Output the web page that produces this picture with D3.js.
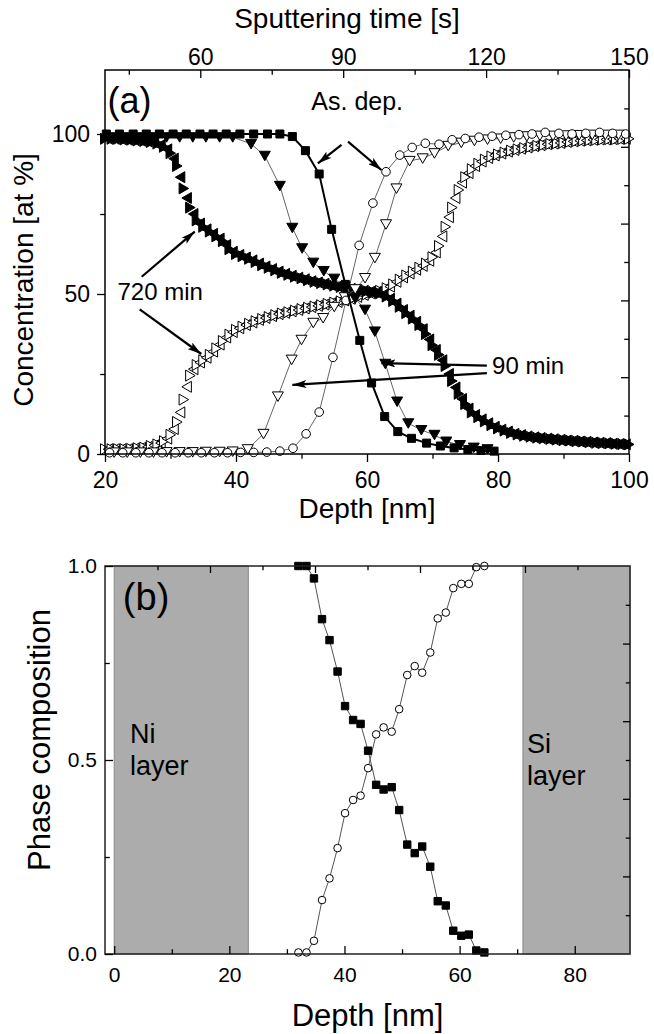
<!DOCTYPE html>
<html>
<head>
<meta charset="utf-8">
<script src="https://d3js.org/d3.v7.min.js"></script>
<style>
  body { margin: 0; background: #fff; }
</style>
</head>
<body>
<script>
// ---- panel (a): depth [nm] vs concentration [at %] ----
// as deposited: Ni (filled squares), Si (open circles)
var asDepNi = [[20.2,100],[22.2,100],[24.3,100],[26.3,100],[28.3,100],[30.4,100],[32.4,100],[34.5,100],[36.5,100],[38.5,100],[40.6,100],[42.7,100],[44.8,100],[46.7,100],[48.6,99.2],[50.6,94.8],[52.7,87.5],[54.6,70.2],[56.7,53],[58.9,35.5],[60.7,22.2],[62.7,11.7],[64.7,7],[66.8,4.9],[69.1,3.4],[71.2,2.5],[73.3,1.9],[75.4,1.4],[77.4,1.1],[79.4,0.9]];
var asDepSi = [[20.7,0.4],[22.7,0.4],[24.7,0.4],[26.7,0.4],[28.7,0.4],[30.7,0.4],[32.7,0.4],[34.7,0.4],[36.7,0.4],[38.7,0.4],[40.7,0.5],[42.7,0.5],[44.7,0.6],[46.7,0.9],[48.7,1.8],[50.7,6.3],[52.7,13.1],[54.8,30.2],[56.8,48],[58.8,65.2],[60.9,78.4],[62.9,88.2],[65,93.4],[66.9,95.8],[68.9,97.1],[71,96.8],[73,98.2],[75,98.6],[77.1,99],[79.1,99.3],[81.2,99.6],[83.2,99.8],[85.2,100],[87.2,100.5],[89.3,100.2],[91.3,100],[93.4,100.2],[95.5,100.5],[97.5,100.2],[99.5,100]];

// 90 min: Ni (filled down triangles), Si (open down triangles)
var ni90 = [[21.4,99],[23.4,99],[25.4,99],[27.4,99],[29.4,99],[31.4,99],[33.4,99],[35.4,99],[37.5,99],[39.5,99],[42.3,96.9],[44.4,93.2],[46.7,83.8],[48.6,70.7],[50.1,64.3],[51.8,59.8],[53.4,57.2],[55,54.8],[56.6,52.3],[58.2,48.6],[59.7,45.1],[61.2,38.3],[62.8,28.2],[64.6,16.4],[66.3,9.6],[68.3,7.5],[70.3,6],[72.1,3.9],[74.2,2.8],[76.3,2],[78.4,1.5]];
var si90 = [[21.4,0.5],[23.4,0.5],[25.4,0.5],[27.4,0.5],[29.4,0.6],[31.4,0.6],[33.4,0.6],[35.4,0.7],[37.5,0.7],[39.5,0.8],[41.8,1.5],[44.2,6.3],[46.4,18],[48.5,29.5],[50,35.7],[51.8,41],[53.3,42.5],[55,46],[56.6,49],[58.2,51.5],[59.7,55],[61.2,61.3],[62.9,71.8],[64.5,83],[66.5,91.6],[68.5,92.4],[70.3,94],[72.4,96.3],[74.4,97.3],[76.4,97.9],[78.4,98.3],[80.4,98.6],[82.4,99],[84.4,99.3],[86.4,99.5],[88.4,99.5],[90.4,99.6],[92.4,99.7],[94.4,99.8],[96.4,99.8],[98.4,99.8]];

// 720 min: dense profiles, right- and left-pointing triangles
var ni720R = [[20,98.5],[21,98.5],[22,98.5],[23,98.3],[24,98.2],[25,98],[26,97.8],[27,97.5],[28,97],[29,96],[30,94],[31,90],[32,83],[33,77],[34,73],[35,71],[36,69.5],[37,68],[38,66.5],[39,64],[40,62.5],[41,61.8],[42,61],[43,60],[44,59],[45,58.2],[46,57.4],[47,56.6],[48,56],[49,55.4],[50,54.9],[51,54.3],[52,53.8],[53,53.4],[54,53],[55,52.6],[56,52.2],[57,51.8],[58,51.5],[59,51.2],[60,50.9],[61,50.6],[62,50.2],[63,49.2],[64,47.8],[65,46],[66,44],[67,42.3],[68,40.3],[69,37.5],[70,34],[71,31],[72,27.5],[73,22.8],[74,18.8],[75,15.6],[76,13],[77,11.5],[78,10.2],[79,9],[80,8],[81,7.3],[82,6.6],[83,6.1],[84,5.7],[85,5.4],[86,5.1],[87,4.9],[88,4.7],[89,4.5],[90,4.3],[91,4.2],[92,4],[93,3.9],[94,3.7],[95,3.5],[96,3.4],[97,3.3],[98,3.2],[99,3.1],[100,3]];
var ni720L = [[20.5,98.5],[21.5,98.5],[22.5,98.4],[23.5,98.2],[24.5,98.1],[25.5,97.9],[26.5,97.7],[27.5,97.3],[28.5,96.6],[29.5,95.2],[30.5,92.3],[31.5,86.5],[32.5,80],[33.5,75],[34.5,72],[35.5,70.2],[36.5,68.8],[37.5,67.3],[38.5,65.3],[39.5,63.2],[40.5,62.2],[41.5,61.4],[42.5,60.5],[43.5,59.5],[44.5,58.6],[45.5,57.8],[46.5,57],[47.5,56.3],[48.5,55.7],[49.5,55.1],[50.5,54.6],[51.5,54],[52.5,53.6],[53.5,53.2],[54.5,52.8],[55.5,52.4],[56.5,52],[57.5,51.6],[58.5,51.3],[59.5,51],[60.5,50.7],[61.5,50.4],[62.5,49.8],[63.5,48.5],[64.5,47],[65.5,45],[66.5,43.2],[67.5,41.3],[68.5,39],[69.5,35.8],[70.5,32.5],[71.5,29.3],[72.5,25],[73.5,20.8],[74.5,17.2],[75.5,14.2],[76.5,12.2],[77.5,10.8],[78.5,9.6],[79.5,8.5],[80.5,7.6],[81.5,7],[82.5,6.3],[83.5,5.9],[84.5,5.5],[85.5,5.2],[86.5,5],[87.5,4.8],[88.5,4.6],[89.5,4.4],[90.5,4.2],[91.5,4.1],[92.5,3.9],[93.5,3.8],[94.5,3.6],[95.5,3.5],[96.5,3.4],[97.5,3.2],[98.5,3.1],[99.5,3]];
var si720R = [[20,1.5],[21,1.5],[22,1.5],[23,1.5],[24,1.6],[25,1.8],[26,2],[27,2.5],[28,3],[29,4],[30,6],[31,10],[32,17],[33,24.5],[34,27.8],[35,29.3],[36,31],[37,33],[38,35.3],[39,37.3],[40,38.8],[41,39.8],[42,40.7],[43,41.5],[44,42.2],[45,42.8],[46,43.4],[47,43.9],[48,44.3],[49,44.8],[50,45.3],[51,45.7],[52,46.1],[53,46.5],[54,46.9],[55,47.3],[56,47.7],[57,48.2],[58,48.8],[59,49.4],[60,49.9],[61,50.4],[62,51],[63,51.8],[64,53],[65,54.5],[66,55.8],[67,57],[68,58.2],[69,59.5],[70,61.5],[71,65],[72,71],[73,77],[74,82.5],[75,86.5],[76,89],[77,90.7],[78,92],[79,93],[80,93.6],[81,94.2],[82,94.8],[83,95.2],[84,95.6],[85,96],[86,96.3],[87,96.6],[88,96.9],[89,97.1],[90,97.3],[91,97.6],[92,97.8],[93,98],[94,98.1],[95,98.2],[96,98.3],[97,98.4],[98,98.4],[99,98.5],[100,98.5]];
var si720L = [[20.5,1.5],[21.5,1.5],[22.5,1.5],[23.5,1.5],[24.5,1.7],[25.5,1.9],[26.5,2.2],[27.5,2.7],[28.5,3.4],[29.5,4.8],[30.5,7.8],[31.5,13],[32.5,21],[33.5,26.5],[34.5,28.6],[35.5,30.1],[36.5,32],[37.5,34.2],[38.5,36.4],[39.5,38.1],[40.5,39.3],[41.5,40.3],[42.5,41.1],[43.5,41.9],[44.5,42.5],[45.5,43.1],[46.5,43.7],[47.5,44.1],[48.5,44.6],[49.5,45],[50.5,45.5],[51.5,45.9],[52.5,46.3],[53.5,46.7],[54.5,47.1],[55.5,47.5],[56.5,48],[57.5,48.5],[58.5,49.1],[59.5,49.7],[60.5,50.2],[61.5,50.7],[62.5,51.4],[63.5,52.3],[64.5,53.8],[65.5,55.2],[66.5,56.4],[67.5,57.6],[68.5,58.8],[69.5,60.4],[70.5,63],[71.5,68],[72.5,74],[73.5,80],[74.5,84.8],[75.5,87.8],[76.5,90],[77.5,91.4],[78.5,92.5],[79.5,93.3],[80.5,93.9],[81.5,94.5],[82.5,95],[83.5,95.4],[84.5,95.8],[85.5,96.2],[86.5,96.5],[87.5,96.8],[88.5,97],[89.5,97.2],[90.5,97.5],[91.5,97.7],[92.5,97.9],[93.5,98],[94.5,98.2],[95.5,98.3],[96.5,98.3],[97.5,98.4],[98.5,98.5],[99.5,98.5]];

// annotation arrows [fromDepth, fromConc, toDepth, toConc]
var arrowsA = [[56.1,96.6,52.5,90.8],[57.1,97.6,62.2,88.75],[25.6,55.4,33.7,69.5],[25.3,45.2,34.7,31.25],[78.3,27.6,62.2,28.4],[78.3,25.3,48.6,21.6]];

// ---- panel (b): depth [nm] vs phase composition ----
var depthB = [32,33.4,34.7,36.1,37.4,38.8,40.1,41.5,42.8,44.1,45.5,46.8,48.2,49.5,50.9,52.2,53.5,54.9,56.2,57.6,58.9,60.3,61.6,62.9,64.3];
var phaseFilled = [1.0,1.0,0.968,0.863,0.809,0.728,0.639,0.603,0.593,0.524,0.436,0.424,0.43,0.371,0.282,0.26,0.277,0.225,0.136,0.125,0.06,0.047,0.05,0.009,0.004];
var phaseOpen = [0.004,0.004,0.034,0.139,0.195,0.273,0.363,0.397,0.408,0.479,0.566,0.584,0.573,0.631,0.719,0.742,0.725,0.777,0.865,0.88,0.943,0.954,0.954,0.997,1.0];
var layerNames = [["Ni", "layer"], ["Si", "layer"]];
var layerFrom = [0, 71];
var layerTo = [23.3, 89.6];

// ---- ticks ----
var depthTicksA = [20, 40, 60, 80, 100], depthMinorA = [30, 50, 70, 90];
var concTicks = [0, 50, 100], concMinor = [25, 75];
var timeTicks = [60, 90, 120, 150], timeMinor = [45, 75, 105, 135];
var depthTicksB = [0, 20, 40, 60, 80], depthMinorB = [10, 30, 50, 70];
var phaseTicks = [0, 0.5, 1.0], phaseMinor = [0.25, 0.75];
var auxMajor = [2, 4, 6, 8], auxMinor = [1, 3, 5, 7, 9];

var FONT = '"Liberation Sans", Arial, Helvetica, sans-serif';

var svg = d3.select("body").append("svg")
    .attr("width", 654)
    .attr("height", 1034)
    .style("font-family", FONT);

svg.append("rect").attr("width", 654).attr("height", 1034).attr("fill", "#fff");

// arrow head marker
svg.append("defs").append("marker")
    .attr("id", "head")
    .attr("viewBox", "0 0 14 8")
    .attr("refX", 14).attr("refY", 4)
    .attr("markerWidth", 14).attr("markerHeight", 8)
    .attr("markerUnits", "userSpaceOnUse")
    .attr("orient", "auto")
    .append("path")
    .attr("d", "M0,0 L14,4 L0,8 L3,4 Z")
    .attr("fill", "#000");

// symbol shapes around (0,0)
var shapes = {
    down: "M-5.5,-4.5L5.5,-4.5L0,5Z",
    right: "M-4.5,-5.5L5,0L-4.5,5.5Z",
    left: "M4.5,-5.5L-5,0L4.5,5.5Z"
};

function drawAxis(g, gen, major, minor, size, pad, fmt, fontSize) {
    g.call(gen.tickValues(major).tickSize(size).tickPadding(pad).tickFormat(fmt));
    g.select(".domain").remove();
    g.attr("font-family", FONT).attr("font-size", fontSize);
    g.selectAll("text").attr("fill", "#000");
    var m = g.append("g");
    m.call(gen.tickValues(minor).tickSize(size * 0.6).tickFormat(""));
    m.select(".domain").remove();
    g.selectAll("line").attr("stroke", "#000").attr("stroke-width", 1.3);
}

function drawSymbols(g, data, x, y, shape, fill, stroke) {
    g.selectAll(null)
        .data(data)
        .enter().append("path")
        .attr("d", shape)
        .attr("transform", function(d) { return "translate(" + x(d[0]) + "," + y(d[1]) + ")"; })
        .attr("fill", fill)
        .attr("stroke", stroke)
        .attr("stroke-width", 1);
}

// ================= panel (a) =================
var xA = d3.scaleLinear().domain([20, 100]).range([105, 629]);
var tA = d3.scaleLinear().domain([40, 150]).range([105, 629]);
var yA = d3.scaleLinear().domain([0, 120]).range([454, 70]);
var rA = d3.scaleLinear().domain([0, 10]).range([454, 70]);

var gA = svg.append("g");

var lineA = d3.line()
    .x(function(d) { return xA(d[0]); })
    .y(function(d) { return yA(d[1]); });

// 720 min profiles, drawn in depth order
var si720 = si720R.map(function(d) { return [d[0], d[1], "right"]; })
    .concat(si720L.map(function(d) { return [d[0], d[1], "left"]; }))
    .sort(function(a, b) { return a[0] - b[0]; });
var ni720 = ni720R.map(function(d) { return [d[0], d[1], "right"]; })
    .concat(ni720L.map(function(d) { return [d[0], d[1], "left"]; }))
    .sort(function(a, b) { return a[0] - b[0]; });

gA.selectAll(".si720").data(si720).enter().append("path")
    .attr("d", function(d) { return shapes[d[2]]; })
    .attr("transform", function(d) { return "translate(" + xA(d[0]) + "," + yA(d[1]) + ")"; })
    .attr("fill", "#fff").attr("stroke", "#000").attr("stroke-width", 1);
gA.selectAll(".ni720").data(ni720).enter().append("path")
    .attr("d", function(d) { return shapes[d[2]]; })
    .attr("transform", function(d) { return "translate(" + xA(d[0]) + "," + yA(d[1]) + ")"; })
    .attr("fill", "#000").attr("stroke", "#000").attr("stroke-width", 1);

// 90 min
[si90, ni90, asDepSi].forEach(function(s) {
    gA.append("path").attr("d", lineA(s))
        .attr("fill", "none").attr("stroke", "#666").attr("stroke-width", 1);
});
drawSymbols(gA, si90, xA, yA, shapes.down, "#fff", "#000");
drawSymbols(gA, ni90, xA, yA, shapes.down, "#000", "#000");

// as deposited
gA.selectAll(".asSi").data(asDepSi).enter().append("circle")
    .attr("cx", function(d) { return xA(d[0]); })
    .attr("cy", function(d) { return yA(d[1]); })
    .attr("r", 4.3)
    .attr("fill", "#fff").attr("stroke", "#000").attr("stroke-width", 1);
gA.append("path").attr("d", lineA(asDepNi))
    .attr("fill", "none").attr("stroke", "#000").attr("stroke-width", 2);
drawSymbols(gA, asDepNi, xA, yA, "M-4,-4H4V4H-4Z", "#000", "#000");

// frame and axes
gA.append("rect").attr("x", 105).attr("y", 70).attr("width", 524).attr("height", 384)
    .attr("fill", "none").attr("stroke", "#000").attr("stroke-width", 1.5);

drawAxis(gA.append("g").attr("transform", "translate(0,454)"),
    d3.axisBottom(xA), depthTicksA, depthMinorA, 8, 10, d3.format("d"), 23);
drawAxis(gA.append("g").attr("transform", "translate(105,0)"),
    d3.axisLeft(yA), concTicks, concMinor, 8, 7, d3.format("d"), 23);
drawAxis(gA.append("g").attr("transform", "translate(0,70)"),
    d3.axisTop(tA), timeTicks, timeMinor, -8, 5, d3.format("d"), 23);
drawAxis(gA.append("g").attr("transform", "translate(629,0)"),
    d3.axisRight(rA), auxMajor, auxMinor, -8, 5, function() { return ""; }, 23);

// arrows
gA.selectAll(".arrow").data(arrowsA).enter().append("line")
    .attr("x1", function(d) { return xA(d[0]); })
    .attr("y1", function(d) { return yA(d[1]); })
    .attr("x2", function(d) { return xA(d[2]); })
    .attr("y2", function(d) { return yA(d[3]); })
    .attr("stroke", "#000").attr("stroke-width", 2.2)
    .attr("marker-end", "url(#head)");

// labels
gA.append("text").attr("x", xA(20.4)).attr("y", yA(106.5)).attr("font-size", 36).text("(a)");
gA.append("text").attr("x", xA(51.5)).attr("y", yA(107.5)).attr("font-size", 25).text("As. dep.");
gA.append("text").attr("x", xA(21.9)).attr("y", yA(48.1)).attr("font-size", 24).text("720 min");
gA.append("text").attr("x", xA(79.1)).attr("y", yA(25)).attr("font-size", 24).text("90 min");

gA.append("text").attr("x", 347).attr("y", 28).attr("text-anchor", "middle")
    .attr("font-size", 28).text("Sputtering time [s]");
gA.append("text").attr("transform", "translate(33,280) rotate(-90)").attr("text-anchor", "middle")
    .attr("font-size", 28).text("Concentration [at %]");
gA.append("text").attr("x", 367).attr("y", 518).attr("text-anchor", "middle")
    .attr("font-size", 28).text("Depth [nm]");

// ================= panel (b) =================
var xB = d3.scaleLinear().domain([-1.6, 89.6]).range([105, 630]);
var tB = d3.scaleLinear().domain([0, 10]).range([105, 630]);
var yB = d3.scaleLinear().domain([0, 1]).range([954, 566]);
var rB = d3.scaleLinear().domain([0, 10]).range([954, 566]);

var gB = svg.append("g");

// layer bands
layerNames.forEach(function(name, i) {
    gB.append("rect")
        .attr("x", xB(layerFrom[i])).attr("y", yB(1))
        .attr("width", xB(layerTo[i]) - xB(layerFrom[i]))
        .attr("height", yB(0) - yB(1))
        .attr("fill", "#acacac").attr("stroke", "#8a8a8a").attr("stroke-width", 1);
});
var layerLabelAt = [[2.75, 0.544], [71.7, 0.518]];
layerNames.forEach(function(name, i) {
    var t = gB.append("text").attr("font-size", 27)
        .attr("x", xB(layerLabelAt[i][0])).attr("y", yB(layerLabelAt[i][1]));
    t.append("tspan").text(name[0]);
    t.append("tspan").attr("x", xB(layerLabelAt[i][0])).attr("dy", 32).text(name[1]);
});

var filledB = depthB.map(function(d, i) { return [d, phaseFilled[i]]; });
var openB = depthB.map(function(d, i) { return [d, phaseOpen[i]]; });

var lineB = d3.line()
    .x(function(d) { return xB(d[0]); })
    .y(function(d) { return yB(d[1]); });

[filledB, openB].forEach(function(s) {
    gB.append("path").attr("d", lineB(s))
        .attr("fill", "none").attr("stroke", "#555").attr("stroke-width", 1);
});
drawSymbols(gB, filledB, xB, yB, "M-3.7,-3.7H3.7V3.7H-3.7Z", "#000", "#000");
gB.selectAll(".openB").data(openB).enter().append("circle")
    .attr("cx", function(d) { return xB(d[0]); })
    .attr("cy", function(d) { return yB(d[1]); })
    .attr("r", 3.8)
    .attr("fill", "#fff").attr("stroke", "#000").attr("stroke-width", 1);

gB.append("rect").attr("x", 105).attr("y", 566).attr("width", 525).attr("height", 388)
    .attr("fill", "none").attr("stroke", "#222").attr("stroke-width", 1.5);

drawAxis(gB.append("g").attr("transform", "translate(0,954)"),
    d3.axisBottom(xB), depthTicksB, depthMinorB, -8, 13, d3.format("d"), 21);
drawAxis(gB.append("g").attr("transform", "translate(105,0)"),
    d3.axisLeft(yB), phaseTicks, phaseMinor, -8, 8, d3.format(".1f"), 21);
drawAxis(gB.append("g").attr("transform", "translate(0,566)"),
    d3.axisTop(tB), auxMajor, auxMinor, -7, 5, function() { return ""; }, 21);
drawAxis(gB.append("g").attr("transform", "translate(630,0)"),
    d3.axisRight(rB), auxMajor, auxMinor, -7, 5, function() { return ""; }, 21);

gB.append("text").attr("x", xB(1.5)).attr("y", yB(0.887)).attr("font-size", 38).text("(b)");
gB.append("text").attr("transform", "translate(50,740) rotate(-90)").attr("text-anchor", "middle")
    .attr("font-size", 31).text("Phase composition");
gB.append("text").attr("x", 367.5).attr("y", 1026).attr("text-anchor", "middle")
    .attr("font-size", 31).text("Depth [nm]");
</script>
</body>
</html>
